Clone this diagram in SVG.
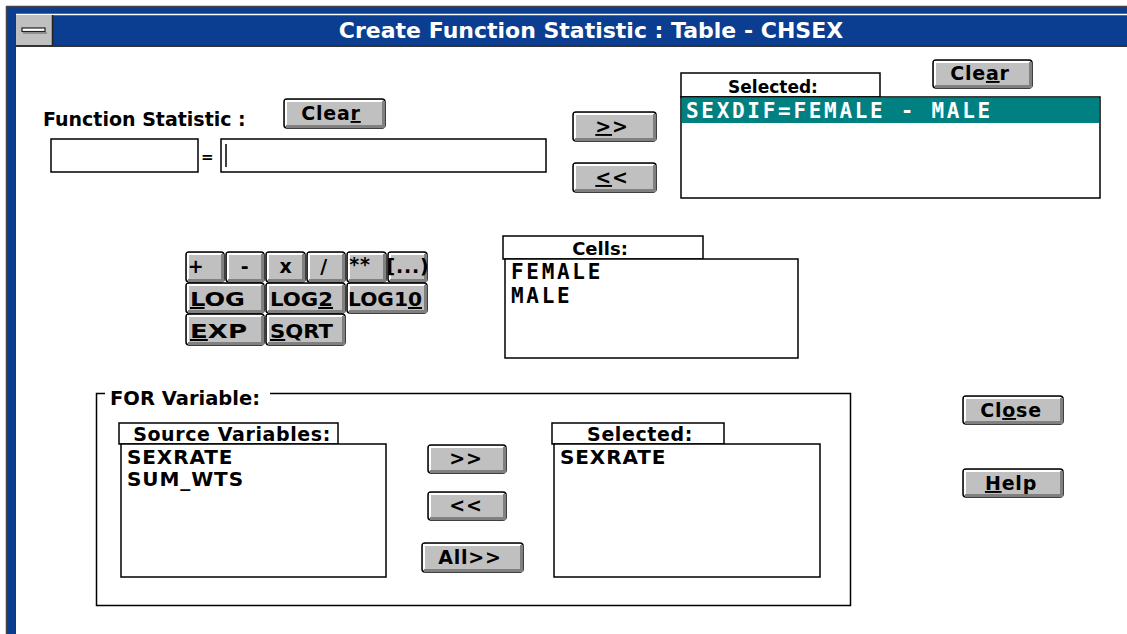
<svg xmlns="http://www.w3.org/2000/svg" width="1127" height="634" viewBox="0 0 1127 634">
<style>
.t{font-family:"DejaVu Sans",sans-serif;font-weight:bold;fill:#000}
.mono{font-family:"DejaVu Sans Mono","Liberation Mono",monospace;font-weight:bold;font-size:21px;letter-spacing:2.7px}
.btn{fill:#c0c0c0;stroke:#000;stroke-width:1.5}
.hl{fill:none;stroke:#fff;stroke-width:2}
.sh{fill:none;stroke:#808080;stroke-width:3}
.box{fill:#fff;stroke:#000;stroke-width:1.5}
.grp{fill:none;stroke:#000;stroke-width:1.5}
.bt{font-family:"DejaVu Sans",sans-serif;font-weight:bold;font-size:19px;letter-spacing:0.8px;fill:#000;text-anchor:middle}
.ct{font-family:"DejaVu Sans",sans-serif;font-weight:bold;font-size:20px;fill:#000}
.tab2{font-size:19px;letter-spacing:0.6px}
.lst{font-size:20px;letter-spacing:0.9px}
</style>
<rect width="1127" height="634" fill="#fff"/>
<g id="window-frame">
  <rect x="7" y="7" width="1120" height="627" fill="#0b3d91"/>
  <line x1="6" y1="6.5" x2="1127" y2="6.5" stroke="#444" stroke-width="1.5"/>
  <line x1="6.5" y1="6" x2="6.5" y2="634" stroke="#444" stroke-width="1.5"/>
  <line x1="16" y1="14.5" x2="1127" y2="14.5" stroke="#fff" stroke-width="1.5"/>
  <rect x="16" y="47" width="1111" height="587" fill="#fff"/>
  <line x1="16" y1="46" x2="1127" y2="46" stroke="#333" stroke-width="2"/>
  <line x1="15.5" y1="14" x2="15.5" y2="634" stroke="#333" stroke-width="1"/>
</g>
<g id="system-menu">
  <rect x="16" y="15" width="36" height="30" fill="#c0c0c0"/>
  <line x1="52.5" y1="15" x2="52.5" y2="46" stroke="#222" stroke-width="1.5"/>
  <rect x="22" y="28" width="23" height="3.5" fill="#fff" stroke="#222" stroke-width="1.2"/>
  <line x1="23" y1="33" x2="47" y2="33" stroke="#808080" stroke-width="1.5"/>
</g>
<g id="title">
  <text x="591" y="38" class="t" font-size="22" style="fill:#fff" text-anchor="middle">Create Function Statistic : Table - CHSEX</text>
</g>
<g id="function-statistic">
  <text x="43" y="126" class="t" font-size="19">Function Statistic :</text>
  <rect x="51" y="139" width="147" height="33" class="box"/>
  <text x="201" y="162" class="t" font-size="15">=</text>
  <rect x="221" y="139" width="325" height="33" class="box"/>
  <line x1="226" y1="144" x2="226" y2="167" stroke="#000" stroke-width="1.5"/>
</g>
<g id="btn-clear-fs">
  <rect x="284" y="99" width="101" height="29" rx="3" class="btn"/>
  <path d="M286 126 V101 H383" class="hl"/>
  <path d="M286 126.5 H383.5 V101" class="sh"/>
  <text x="331" y="120" class="bt">Clea<tspan text-decoration="underline">r</tspan></text>
</g>
<g id="btn-add">
  <rect x="573" y="112" width="83" height="29" rx="3" class="btn"/>
  <path d="M575 139 V114 H654" class="hl"/>
  <path d="M575 139.5 H654.5 V114" class="sh"/>
  <text x="612" y="133" class="bt"><tspan text-decoration="underline">&gt;</tspan>&gt;</text>
</g>
<g id="btn-remove">
  <rect x="573" y="163" width="83" height="29" rx="3" class="btn"/>
  <path d="M575 190 V165 H654" class="hl"/>
  <path d="M575 190.5 H654.5 V165" class="sh"/>
  <text x="612" y="184" class="bt"><tspan text-decoration="underline">&lt;</tspan>&lt;</text>
</g>
<g id="selected-top">
  <rect x="681" y="73" width="199" height="24" class="box"/>
  <text x="773" y="93" class="t" font-size="17" text-anchor="middle">Selected:</text>
  <rect x="681" y="97" width="419" height="101" class="box"/>
  <rect x="682" y="98" width="417" height="25" fill="#008080"/>
  <text x="686" y="118" class="mono" style="fill:#fff" xml:space="preserve">SEXDIF=FEMALE - MALE</text>
</g>
<g id="btn-clear-sel">
  <rect x="933" y="60" width="99" height="28" rx="3" class="btn"/>
  <path d="M935 86 V62 H1030" class="hl"/>
  <path d="M935 86.5 H1030.5 V62" class="sh"/>
  <text x="980" y="80" class="bt">Cle<tspan text-decoration="underline">a</tspan>r</text>
</g>
<g id="calculator">
  <g>
    <rect x="186" y="252" width="38" height="30" rx="3" class="btn"/><path d="M188 280 V254 H222" class="hl"/><path d="M188 280.5 H222.5 V254" class="sh"/>
    <text x="196" y="273" class="bt" font-size="16">+</text>
  </g>
  <g>
    <rect x="226" y="252" width="38" height="30" rx="3" class="btn"/><path d="M228 280 V254 H262" class="hl"/><path d="M228 280.5 H262.5 V254" class="sh"/>
    <text x="245" y="273" class="bt" font-size="16">-</text>
  </g>
  <g>
    <rect x="266" y="252" width="39" height="30" rx="3" class="btn"/><path d="M268 280 V254 H303" class="hl"/><path d="M268 280.5 H303.5 V254" class="sh"/>
    <text x="286" y="273" class="bt" font-size="16">x</text>
  </g>
  <g>
    <rect x="307" y="252" width="38" height="30" rx="3" class="btn"/><path d="M309 280 V254 H343" class="hl"/><path d="M309 280.5 H343.5 V254" class="sh"/>
    <text x="324" y="273" class="bt" font-size="16">/</text>
  </g>
  <g>
    <rect x="347" y="252" width="39" height="30" rx="3" class="btn"/><path d="M349 280 V254 H384" class="hl"/><path d="M349 280.5 H384.5 V254" class="sh"/>
    <text x="360" y="271" class="bt" font-size="12">**</text>
  </g>
  <g>
    <rect x="388" y="252" width="39" height="30" rx="3" class="btn"/><path d="M390 280 V254 H425" class="hl"/><path d="M390 280.5 H425.5 V254" class="sh"/>
    <text x="408" y="273" class="bt" font-size="15">[...)</text>
  </g>
  <g>
    <rect x="186" y="283" width="78" height="30" rx="3" class="btn"/><path d="M188 311 V285 H262" class="hl"/><path d="M188 311.5 H262.5 V285" class="sh"/>
    <text x="190" y="306" class="ct" textLength="55" lengthAdjust="spacingAndGlyphs"><tspan text-decoration="underline">L</tspan>OG</text>
  </g>
  <g>
    <rect x="266" y="283" width="79" height="30" rx="3" class="btn"/><path d="M268 311 V285 H343" class="hl"/><path d="M268 311.5 H343.5 V285" class="sh"/>
    <text x="270" y="306" class="ct" textLength="63" lengthAdjust="spacingAndGlyphs">LOG<tspan text-decoration="underline">2</tspan></text>
  </g>
  <g>
    <rect x="347" y="283" width="80" height="30" rx="3" class="btn"/><path d="M349 311 V285 H425" class="hl"/><path d="M349 311.5 H425.5 V285" class="sh"/>
    <text x="348" y="306" class="ct" textLength="74" lengthAdjust="spacingAndGlyphs">LOG1<tspan text-decoration="underline">0</tspan></text>
  </g>
  <g>
    <rect x="186" y="314" width="78" height="31" rx="3" class="btn"/><path d="M188 343 V316 H262" class="hl"/><path d="M188 343.5 H262.5 V316" class="sh"/>
    <text x="190" y="338" class="ct" textLength="57" lengthAdjust="spacingAndGlyphs"><tspan text-decoration="underline">E</tspan>XP</text>
  </g>
  <g>
    <rect x="266" y="314" width="79" height="31" rx="3" class="btn"/><path d="M268 343 V316 H343" class="hl"/><path d="M268 343.5 H343.5 V316" class="sh"/>
    <text x="270" y="338" class="ct" textLength="63" lengthAdjust="spacingAndGlyphs"><tspan text-decoration="underline">S</tspan>QRT</text>
  </g>
</g>
<g id="cells">
  <rect x="503" y="236" width="200" height="23" class="box"/>
  <text x="600" y="255" class="t" font-size="18" text-anchor="middle">Cells:</text>
  <rect x="505" y="259" width="293" height="99" class="box"/>
  <text x="511" y="279" class="mono">FEMALE</text>
  <text x="511" y="303" class="mono">MALE</text>
</g>
<g id="for-variable">
  <path d="M105 393.5 H96.5 V605.5 H850.5 V393.5 H270" class="grp"/>
  <text x="110" y="405" class="t" font-size="19.5">FOR Variable:</text>
</g>
<g id="source-variables">
  <rect x="119" y="423" width="219" height="21" class="box"/>
  <text x="232" y="441" class="t tab2" text-anchor="middle">Source Variables:</text>
  <rect x="121" y="444" width="265" height="133" class="box"/>
  <text x="127" y="464" class="t lst">SEXRATE</text>
  <text x="127" y="486" class="t lst">SUM_WTS</text>
</g>
<g id="btn-for-add">
  <rect x="428" y="445" width="78" height="28" rx="3" class="btn"/>
  <path d="M430 471 V447 H504" class="hl"/><path d="M430 471.5 H504.5 V447" class="sh"/>
  <text x="466" y="465" class="bt">&gt;&gt;</text>
</g>
<g id="btn-for-remove">
  <rect x="428" y="492" width="78" height="28" rx="3" class="btn"/>
  <path d="M430 518 V494 H504" class="hl"/><path d="M430 518.5 H504.5 V494" class="sh"/>
  <text x="466" y="512" class="bt">&lt;&lt;</text>
</g>
<g id="btn-for-all">
  <rect x="422" y="543" width="101" height="29" rx="3" class="btn"/>
  <path d="M424 570 V545 H521" class="hl"/><path d="M424 570.5 H521.5 V545" class="sh"/>
  <text x="470" y="564" class="bt">All&gt;&gt;</text>
</g>
<g id="for-selected">
  <rect x="552" y="423" width="172" height="21" class="box"/>
  <text x="640" y="441" class="t tab2" text-anchor="middle">Selected:</text>
  <rect x="554" y="444" width="266" height="133" class="box"/>
  <text x="560" y="464" class="t lst">SEXRATE</text>
</g>
<g id="btn-close">
  <rect x="963" y="396" width="100" height="28" rx="3" class="btn"/>
  <path d="M965 422 V398 H1061" class="hl"/><path d="M965 422.5 H1061.5 V398" class="sh"/>
  <text x="1011" y="417" class="bt">Cl<tspan text-decoration="underline">o</tspan>se</text>
</g>
<g id="btn-help">
  <rect x="963" y="469" width="100" height="28" rx="3" class="btn"/>
  <path d="M965 495 V471 H1061" class="hl"/><path d="M965 495.5 H1061.5 V471" class="sh"/>
  <text x="1011" y="490" class="bt"><tspan text-decoration="underline">H</tspan>elp</text>
</g>
<g id="connectors"></g>
</svg>
